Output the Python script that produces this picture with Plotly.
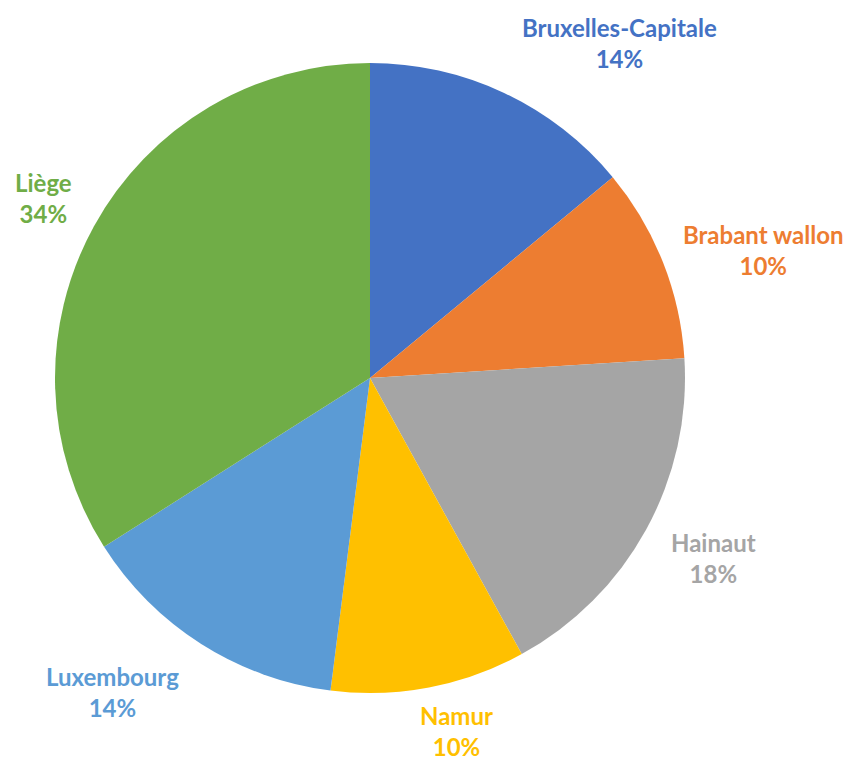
import math
import plotly.graph_objects as go

provinces = ["Bruxelles-Capitale", "Brabant wallon", "Hainaut", "Namur", "Luxembourg", "Liège"]
shares = [14, 10, 18, 10, 14, 34]
colors = ["#4472C4", "#ED7D31", "#A5A5A5", "#FFC000", "#5B9BD5", "#70AD47"]

# label placement tweaks (degrees off slice middle, distance as fraction of radius)
label_shift = [11.5, 3.6, -1.2, -3.0, 7.0, 0.0]
label_dist = [1.327, 1.315, 1.232, 1.155, 1.289, 1.184]

W, H = 858, 760
off = 7  # page body margin pushes the figure down/right a bit
cx, cy, r = 369 - off, 377 - off, 315  # pie centre / radius in pixels

fig = go.Figure()
fig.add_trace(go.Pie(
    labels=provinces, values=shares, sort=False, direction="clockwise", rotation=0,
    marker=dict(colors=colors, line=dict(width=0)),
    textinfo="none", hoverinfo="label+percent", showlegend=False,
    domain=dict(x=[(cx - r) / W, (cx + r) / W], y=[(H - cy - r) / H, (H - cy + r) / H]),
))

total = sum(shares)
cum = 0
for name, val, col, sh, dist in zip(provinces, shares, colors, label_shift, label_dist):
    mid = (cum + val / 2) / total * 360 + sh
    cum += val
    px = cx + r * dist * math.sin(math.radians(mid))
    py = cy - r * dist * math.cos(math.radians(mid))
    fig.add_annotation(
        x=px / W, y=1 - py / H, xref="paper", yref="paper",
        text=f"{name}<br>{round(val / total * 100)}%", showarrow=False,
        xanchor="center", yanchor="middle",
        font=dict(family="Lato", size=24, color=col, weight="bold"),
    )

fig.update_layout(
    width=W, height=H, margin=dict(l=0, r=0, t=0, b=0),
    paper_bgcolor="white", plot_bgcolor="white",
)
fig.write_html("out.html")
